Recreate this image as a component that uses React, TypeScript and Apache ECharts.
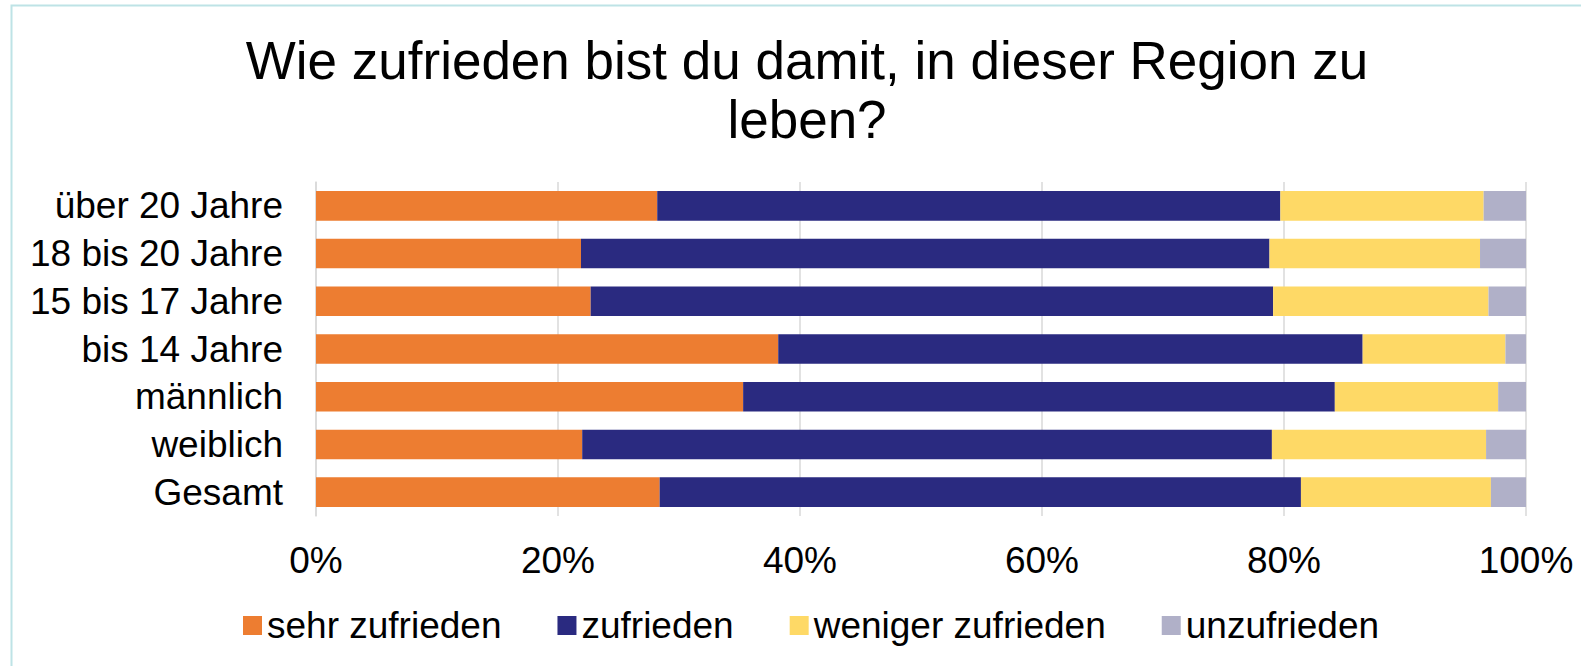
import React, { useEffect, useRef } from "react";
import * as echarts from "echarts";

const TITLE = "Wie zufrieden bist du damit, in dieser Region zu\nleben?";
const categories = [
  "Gesamt",
  "weiblich",
  "männlich",
  "bis 14 Jahre",
  "15 bis 17 Jahre",
  "18 bis 20 Jahre",
  "über 20 Jahre",
];
const seriesNames = ["sehr zufrieden", "zufrieden", "weniger zufrieden", "unzufrieden"];
const sehrZufrieden = [28.4, 22.0, 35.3, 38.2, 22.7, 21.9, 28.2];
const zufrieden = [53.0, 57.0, 48.9, 48.3, 56.4, 56.9, 51.5];
const wenigerZufrieden = [15.7, 17.7, 13.5, 11.8, 17.8, 17.4, 16.8];
const unzufrieden = [2.9, 3.3, 2.3, 1.7, 3.1, 3.8, 3.5];
const colors = ["#ED7D31", "#2A2A80", "#FED966", "#B0B0C8"];

const FONT = '"Liberation Sans", Arial, sans-serif';

export default function App() {
  const ref = useRef<HTMLDivElement>(null);
  useEffect(() => {
    if (!ref.current) return;
    const chart = echarts.init(ref.current, undefined, { renderer: "svg" });
    const values = [sehrZufrieden, zufrieden, wenigerZufrieden, unzufrieden];
    chart.setOption({
      animation: false,
      backgroundColor: "#ffffff",
      textStyle: { fontFamily: FONT },
      title: {
        text: TITLE,
        left: 807,
        top: 31,
        padding: 0,
        textAlign: "center",
        textStyle: {
          fontFamily: FONT,
          fontSize: 53,
          fontWeight: "normal",
          color: "#000000",
          lineHeight: 59,
        },
      },
      graphic: [
        {
          type: "rect",
          silent: true,
          shape: { x: 11.5, y: 5.5, width: 1600, height: 700 },
          style: { fill: "none", stroke: "#BEE3E6", lineWidth: 2 },
        },
      ],
      legend: {
        left: 238,
        top: 602,
        itemWidth: 19,
        itemHeight: 19,
        itemGap: 56,
        icon: "rect",
        data: seriesNames,
        textStyle: {
          fontFamily: FONT,
          fontSize: 37,
          color: "#000000",
        },
      },
      grid: { left: 316, right: 55, top: 182, bottom: 150, containLabel: false },
      xAxis: {
        type: "value",
        min: 0,
        max: 100,
        interval: 20,
        axisLine: { show: false },
        axisTick: { show: false },
        splitLine: { show: true, lineStyle: { color: "#D9D9D9", width: 1.5 } },
        axisLabel: {
          formatter: "{value}%",
          fontFamily: FONT,
          fontSize: 37,
          color: "#000000",
          margin: 26,
        },
      },
      yAxis: {
        type: "category",
        data: categories,
        axisLine: { show: true, lineStyle: { color: "#D9D9D9", width: 1.5 } },
        axisTick: { show: false },
        axisLabel: {
          interval: 0,
          fontFamily: FONT,
          fontSize: 37,
          color: "#000000",
          margin: 33,
        },
      },
      series: seriesNames.map((name, i) => ({
        name,
        type: "bar",
        stack: "total",
        barCategoryGap: "38%",
        itemStyle: { color: colors[i] },
        data: values[i],
      })),
    });
    return () => chart.dispose();
  }, []);
  return (
    <div
      ref={ref}
      style={{ position: "fixed", left: 0, top: 0, width: 1581, height: 666 }}
    />
  );
}
